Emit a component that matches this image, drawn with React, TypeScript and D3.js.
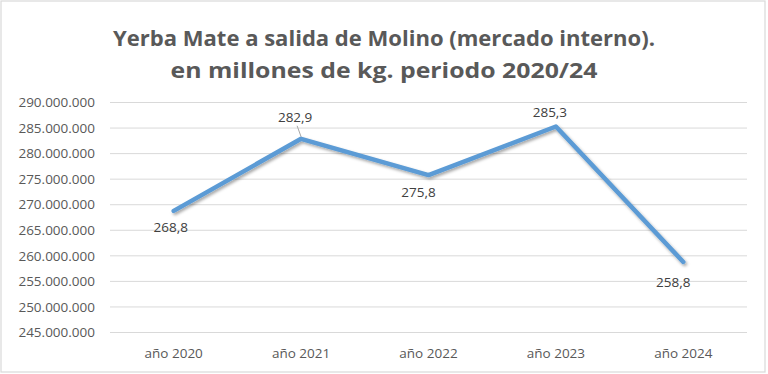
import React from 'react';
import * as d3 from 'd3';

// Yerba mate leaving the mill (domestic market), millions of kg
const YEARS = ['año 2020', 'año 2021', 'año 2022', 'año 2023', 'año 2024'];
const VALUES = [268.8, 282.9, 275.8, 285.3, 258.8];
const Y_TICKS = [245, 250, 255, 260, 265, 270, 275, 280, 285, 290];

// data label placement (pixel offsets from the point)
const LABEL_DX = [-3, -6, -10, -6, -10];
const LABEL_DY = [16, -22, 17, -14, 20];

const W = 768;
const H = 374;
const margin = { top: 102.5, right: 21, bottom: 41, left: 110 };
const TEXT = '#595959';
const FONT = '"Open Sans", "Noto Sans", sans-serif';

const App: React.FC = () => {
  const innerW = W - margin.left - margin.right;
  const innerH = H - margin.top - margin.bottom;

  const x = d3.scaleBand<string>().domain(YEARS).range([margin.left, margin.left + innerW]);
  const y = d3.scaleLinear().domain([245, 290]).range([margin.top + innerH - 0.5, margin.top]);

  const fmt = (v: number) => d3.format(',')(v * 1e6).replace(/,/g, '.');
  const fmtLabel = (v: number) => v.toFixed(1).replace('.', ',');

  const cx = (i: number) => (x(YEARS[i]) as number) + x.bandwidth() / 2;

  const line = d3.line<number>()
    .x((_, i) => cx(i))
    .y(d => y(d));

  return (
    <svg width={W} height={H} style={{ position: 'absolute', left: 0, top: 0, background: '#fff' }}>
      <defs>
        <filter id="shadow" x="-10%" y="-10%" width="120%" height="130%">
          <feDropShadow dx="1.5" dy="2" stdDeviation="1.5" floodColor="#000" floodOpacity="0.35" />
        </filter>
      </defs>
      <rect x={1} y={1} width={764} height={371} fill="#fff" stroke="#d9d9d9" strokeWidth={1.2} />

      {/* title */}
      <text x={384} y={46} textAnchor="middle" fontFamily={FONT} fontWeight="bold" fontSize={22}
        fill={TEXT} textLength={542} lengthAdjust="spacingAndGlyphs">
        Yerba Mate a salida de Molino (mercado interno).
      </text>
      <text x={384} y={78} textAnchor="middle" fontFamily={FONT} fontWeight="bold" fontSize={22}
        fill={TEXT} textLength={427} lengthAdjust="spacingAndGlyphs">
        en millones de kg. periodo 2020/24
      </text>

      {/* grid + y ticks */}
      {Y_TICKS.map(t => (
        <g key={t}>
          <line x1={margin.left} x2={margin.left + innerW} y1={y(t)} y2={y(t)} stroke="#d9d9d9" strokeWidth={1} />
          <text x={95} y={y(t)} dy="0.35em" textAnchor="end" fontFamily={FONT} fontSize={13.5} fill={TEXT}>
            {fmt(t)}
          </text>
        </g>
      ))}

      {/* x labels */}
      {YEARS.map((c, i) => (
        <text key={c} x={cx(i)} y={353} dy="0.35em" textAnchor="middle" fontFamily={FONT} fontSize={13.5} fill={TEXT}>
          {c}
        </text>
      ))}

      {/* series */}
      <path d={line(VALUES) || ''} fill="none" stroke="#5b9bd5" strokeWidth={4.5}
        strokeLinejoin="round" strokeLinecap="round" filter="url(#shadow)" />

      {/* data labels */}
      {VALUES.map((v, i) => (
        <g key={i}>
          {i === 1 && (
            <line x1={cx(i) - 4} y1={y(v) - 13} x2={cx(i)} y2={y(v) - 2} stroke="#a6a6a6" strokeWidth={1} />
          )}
          <text x={cx(i) + LABEL_DX[i]} y={y(v) + LABEL_DY[i]} dy="0.35em" textAnchor="middle"
            fontFamily={FONT} fontSize={13.5} fill="#404040">
            {fmtLabel(v)}
          </text>
        </g>
      ))}
    </svg>
  );
};

export default App;
